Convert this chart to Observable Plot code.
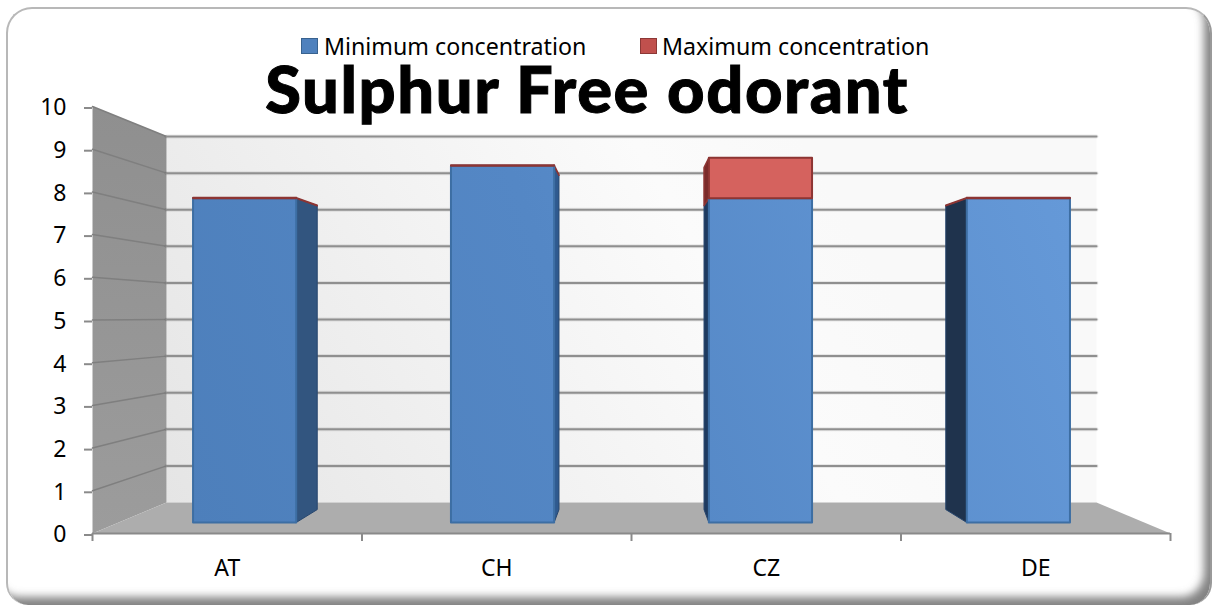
<!DOCTYPE html>
<html><head><meta charset="utf-8">
<script src="https://cdn.jsdelivr.net/npm/d3@7"></script>
<script src="https://cdn.jsdelivr.net/npm/@observablehq/plot@0.6"></script>
<style>
html,body{margin:0;padding:0;background:#fff;width:1216px;height:605px;overflow:hidden}
#card{position:absolute;left:6px;top:7px;width:1206px;height:598px;box-sizing:border-box;border:2px solid #b8b8b8;border-right-color:#999;border-bottom:none;border-radius:26px 26px 22px 22px;
  box-shadow:inset -9px -11px 9px -3px rgba(90,90,90,.75);background:#fff}
#plot{position:absolute;left:0;top:0}
#title{position:absolute;left:0;width:1174px;text-align:center;top:60px;font:900 65px/56px Lato,sans-serif;letter-spacing:1.6px;color:#000;-webkit-text-stroke:1px #000;white-space:nowrap}
.lg{position:absolute;top:36px;font:23.2px/20px "Noto Sans",sans-serif;color:#000;white-space:nowrap}
.sw{position:absolute;top:38px;width:17px;height:16px;box-sizing:border-box;border:1.5px solid}
</style></head><body>
<div id="card"></div>
<div id="plot"></div>
<div id="title">Sulphur Free odorant</div>
<div class="sw" style="left:301px;background:#4f81bd;border-color:#38628f"></div>
<div class="lg" style="left:324px">Minimum concentration</div>
<div class="sw" style="left:640px;background:#c0504d;border-color:#8c3836"></div>
<div class="lg" style="left:662px">Maximum concentration</div>
<script>
const categories = ["AT", "CH", "CZ", "DE"];
const minConcentration = [8, 8.8, 8, 8];
const maxConcentration = [0.015, 0.015, 1, 0.015];
const yTicks = [0, 1, 2, 3, 4, 5, 6, 7, 8, 9, 10];
const sideShade = ["#32557f", "#2f5a8f", "#1e3a5f", "#1f334d"];
const redSide = "#7a2b2a";

const n = categories.length, yMax = 10;
// oblique projection of a (category, value, depth) point onto the front plane
const px = (u, d) => u + d * 0.1373 * (n / 2 - u);
const py = (v, d) => v + d * (0.726 - 0.143 * v);
const P = (u, v, d, dx = d) => ({x: px(u, dx), y: py(v, d)});
const poly = (pts, o) => Plot.line([...pts, pts[0]], {x: "x", y: "y", ...o});
const front = 0.355, rear = 0.772, frontX = 0.313, rearX = 0.75, half = 0.2;

const marks = [];
marks.push(() => {
  const s = d3.create("svg:defs");
  const lg = s.append("linearGradient").attr("id", "wallG").attr("gradientUnits", "userSpaceOnUse")
    .attr("x1", 166).attr("y1", 502).attr("x2", 800).attr("y2", 136);
  lg.append("stop").attr("offset", 0).attr("stop-color", "#e5e5e5");
  lg.append("stop").attr("offset", 0.8).attr("stop-color", "#fbfbfb");
  lg.append("stop").attr("offset", 1).attr("stop-color", "#f9f9f9");
  const side = s.append("linearGradient").attr("id", "sideG").attr("x1", 0).attr("y1", 0).attr("x2", 0).attr("y2", 1);
  side.append("stop").attr("offset", 0).attr("stop-color", "#8f8f8f");
  side.append("stop").attr("offset", 1).attr("stop-color", "#9c9c9c");
  const blue = s.append("linearGradient").attr("id", "blueG").attr("gradientUnits", "userSpaceOnUse")
    .attr("x1", 190).attr("y1", 520).attr("x2", 1070).attr("y2", 190);
  blue.append("stop").attr("offset", 0).attr("stop-color", "#4d7fbb");
  blue.append("stop").attr("offset", 0.45).attr("stop-color", "#5487c5");
  blue.append("stop").attr("offset", 1).attr("stop-color", "#6599d8");
  return s.node();
});
marks.push(poly([P(0, yMax, 1), P(n, yMax, 1), P(n, 0, 1), P(0, 0, 1)], {fill: "url(#wallG)", stroke: "none"}));
marks.push(poly([P(0, 0, 0), P(0, yMax, 0), P(0, yMax, 1), P(0, 0, 1)], {fill: "url(#sideG)", stroke: "none"}));
marks.push(poly([P(0, 0, 0), P(n, 0, 0), P(n, 0, 1), P(0, 0, 1)], {fill: "#adadad", stroke: "none"}));

for (const v of yTicks) {
  if (v === 0) continue;
  marks.push(Plot.line([P(0, v, 0), P(0, v, 1)], {x: "x", y: "y", stroke: "#7f7f7f", strokeWidth: 1.5}));
  marks.push(Plot.line([P(0, v, 1), P(n, v, 1)], {x: "x", y: "y", stroke: "#000", strokeOpacity: 0.08, strokeWidth: 4}));
  marks.push(Plot.line([P(0, v, 1), P(n, v, 1)], {x: "x", y: "y", stroke: "#8f8f8f", strokeWidth: 2}));
}
marks.push(Plot.ruleY([0], {stroke: "#8a8a8a", strokeWidth: 2}));

categories.forEach((c, i) => {
  const cx = i + 0.5, l = cx - half, r = cx + half;
  const sideU = cx < n / 2 ? r : l;
  const lo = minConcentration[i], hi = lo + maxConcentration[i];
  marks.push(poly([P(sideU, 0, front, frontX), P(sideU, 0, rear, rearX), P(sideU, lo, rear, rearX), P(sideU, lo, front, frontX)],
    {fill: sideShade[i], stroke: "#27466e", strokeWidth: 1}));
  marks.push(poly([P(sideU, lo, front, frontX), P(sideU, lo, rear, rearX), P(sideU, hi, rear, rearX), P(sideU, hi, front, frontX)],
    {fill: redSide, stroke: "#8d3533", strokeWidth: 1.5}));
  marks.push(poly([P(l, 0, front, frontX), P(r, 0, front, frontX), P(r, lo, front, frontX), P(l, lo, front, frontX)],
    {fill: "url(#blueG)", stroke: "#3d6ea3", strokeWidth: 2}));
  marks.push(poly([P(l, lo, front, frontX), P(r, lo, front, frontX), P(r, hi, front, frontX), P(l, hi, front, frontX)],
    {fill: "#d5625e", stroke: "#8d3533", strokeWidth: 2}));
});

marks.push(Plot.axisY({ticks: yTicks, tickSize: 8, tickPadding: 18, label: null, fontSize: 23, stroke: "#8a8a8a", strokeWidth: 2, dy: 1.5}));
marks.push(Plot.axisX({ticks: d3.range(n + 1), tickSize: 8, tickFormat: () => "", label: null, stroke: "#8a8a8a", strokeWidth: 2}));
marks.push(Plot.axisX({ticks: categories.map((c, i) => i + 0.5), tickSize: 0, tickPadding: 26, label: null, fontSize: 23,
  tickFormat: t => categories[t - 0.5]}));

const chart = Plot.plot({
  width: 1216, height: 605,
  marginLeft: 92, marginRight: 46, marginTop: 106, marginBottom: 72,
  x: {domain: [0, n]},
  y: {domain: [0, yMax]},
  style: {background: "transparent", fontFamily: '"Noto Sans",sans-serif', color: "#000"},
  marks
});
document.getElementById("plot").append(chart);
</script>
</body></html>
